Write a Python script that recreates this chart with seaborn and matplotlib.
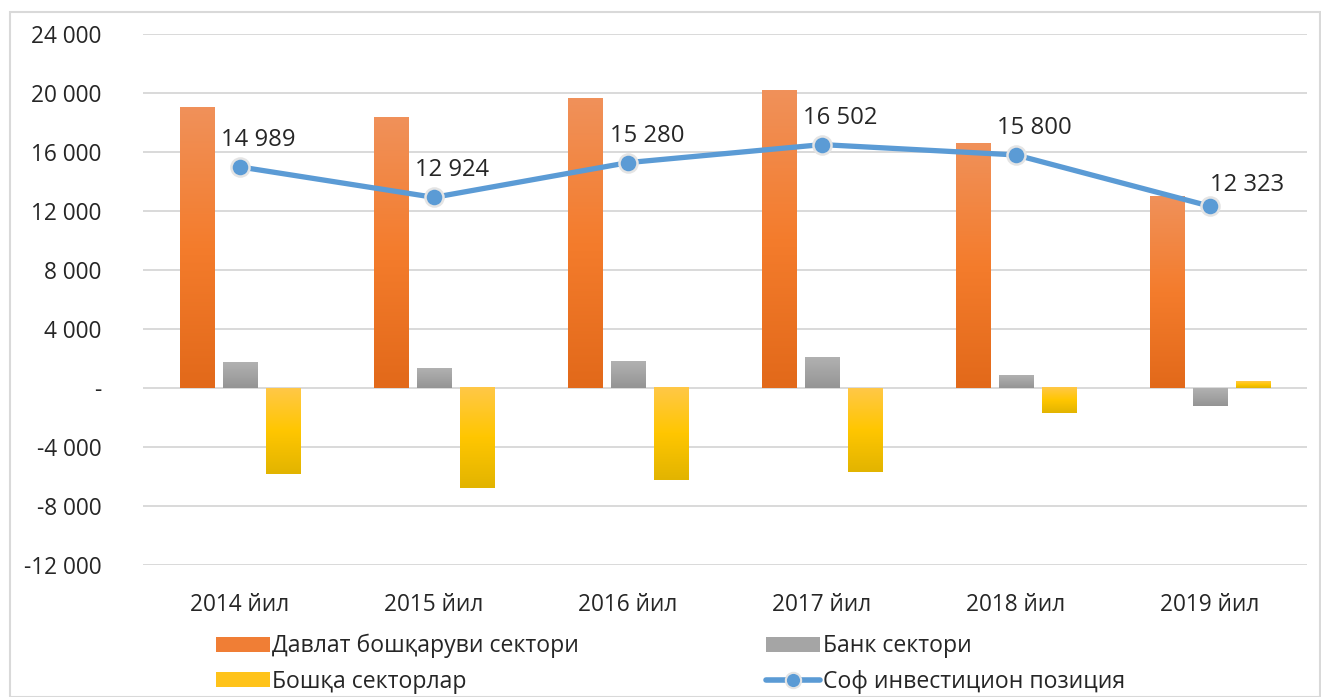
import numpy as np
import pandas as pd
import matplotlib
matplotlib.use("Agg")
import matplotlib.pyplot as plt
import seaborn as sns
from matplotlib.colors import LinearSegmentedColormap, to_rgb
from matplotlib.patches import Rectangle, Patch
from matplotlib.lines import Line2D

# ---- data ----
years = ["2014 йил", "2015 йил", "2016 йил", "2017 йил", "2018 йил", "2019 йил"]
sectors = ["Давлат бошқаруви сектори", "Банк сектори", "Бошқа секторлар"]
gov_sector = [19050, 18370, 19600, 20140, 16610, 12950]
bank_sector = [1700, 1290, 1830, 2100, 880, -1220]
other_sectors = [-5830, -6780, -6240, -5690, -1700, 470]
net_position = [14989, 12924, 15280, 16502, 15800, 12323]
net_label = "Соф инвестицион позиция"
y_ticks = [-12000, -8000, -4000, 0, 4000, 8000, 12000, 16000, 20000, 24000]

df = pd.DataFrame({
    "year": years * 3,
    "sector": [sectors[0]] * 6 + [sectors[1]] * 6 + [sectors[2]] * 6,
    "value": gov_sector + bank_sector + other_sectors,
})
df_line = pd.DataFrame({"year": years, "net": net_position})

# ---- style ----
sns.set_theme(style="white")
plt.rcParams["font.family"] = ["Open Sans", "DejaVu Sans"]
text_color = "#262626"
grid_color = "#D9D9D9"
base_colors = ["#ED7D31", "#A5A5A5", "#FFC000"]
gradients = [
    ["#F0915A", "#F47C2C", "#E2691A"],
    ["#B1B1B1", "#A3A3A3", "#949494"],
    ["#FFC847", "#FFC600", "#E2B400"],
]
line_color = "#5B9BD5"

W, H = 1321, 697
fig = plt.figure(figsize=(W / 100, H / 100), dpi=100)
ax = fig.add_axes([143 / W, 1 - 565 / H, (1307 - 143) / W, (565 - 34) / H])

sns.barplot(data=df, x="year", y="value", hue="sector", hue_order=sectors,
            palette=base_colors, width=0.665, gap=0.19, ax=ax, legend=False,
            errorbar=None, zorder=2)

# replace solid fills by vertical gradients
cmaps = [LinearSegmentedColormap.from_list(f"g{i}", g) for i, g in enumerate(gradients)]
grad = np.linspace(0, 1, 256).reshape(-1, 1)
for p in list(ax.patches):
    fc = p.get_facecolor()[:3]
    idx = int(np.argmin([np.sum((np.array(fc) - np.array(to_rgb(c))) ** 2) for c in base_colors]))
    x0, y0 = p.get_x(), p.get_y()
    w, h = p.get_width(), p.get_height()
    if w == 0 or h == 0:
        continue
    lo, hi = min(y0, y0 + h), max(y0, y0 + h)
    ax.imshow(grad, cmap=cmaps[idx], extent=[x0, x0 + w, lo, hi], origin="upper",
              aspect="auto", zorder=2, interpolation="bilinear")
    p.set_visible(False)

# line
sns.pointplot(data=df_line, x="year", y="net", color=line_color, ax=ax,
              markers="o", errorbar=None, native_scale=False)
for ln in ax.lines:
    ln.set_linewidth(3.8)
    ln.set_markersize(13)
    ln.set_markeredgecolor("#E4E4E4")
    ln.set_markeredgewidth(1.8)
    ln.set_markerfacecolor(line_color)
    ln.set_zorder(4)
    ln.set_solid_capstyle("round")

label_offsets = [(13, 19.5), (13, 19.5), (14, 19.5), (13, 19.5), (13, 19.5), (27, 15)]
for i, v in enumerate(net_position):
    ax.annotate(f"{v:,}".replace(",", " "), (i, v), xytext=label_offsets[i],
                textcoords="offset points", ha="center", va="center",
                fontsize=17.2, color=text_color, zorder=5)

ax.set_xlim(-0.5, 5.5)
ax.set_ylim(-12000, 24000)
ax.set_yticks(y_ticks)
ax.set_yticklabels([("-" if t == 0 else f"{t:,}".replace(",", " ")) for t in y_ticks])
ax.yaxis.grid(True, color=grid_color, linewidth=1.4, zorder=0)
ax.set_axisbelow(True)
for s in ax.spines.values():
    s.set_visible(False)
ax.tick_params(axis="y", length=0, pad=30, labelsize=16.3, labelcolor=text_color)
ax.tick_params(axis="x", length=0, pad=20.5, labelsize=16.3, labelcolor=text_color)
ax.set_xlabel("")
ax.set_ylabel("")

# legend
handles = [
    Patch(facecolor="#F07E35", edgecolor="none", label=sectors[0]),
    Patch(facecolor="#FFC31A", edgecolor="none", label=sectors[2]),
    Patch(facecolor="#A5A5A5", edgecolor="none", label=sectors[1]),
    Line2D([0], [0], color=line_color, lw=4, marker="o", markersize=11,
           markerfacecolor=line_color, markeredgecolor="#E4E4E4", markeredgewidth=1.5,
           label=net_label),
]
fig.legend(handles=handles, ncol=2, loc="center left",
           bbox_to_anchor=(216 / W, 1 - 664 / H), frameon=False,
           fontsize=16.6, handlelength=2.35, handleheight=0.62, handletextpad=0.1,
           columnspacing=8.1, labelspacing=0.5, borderpad=0, borderaxespad=0,
           labelcolor=text_color)

# outer border
fig.patches.append(Rectangle((10 / W, 0.5 / H), (W - 11) / W, (H - 12.5) / H,
                             transform=fig.transFigure, fill=False,
                             edgecolor="#D9D9D9", linewidth=1.5))

fig.savefig("out.png", dpi=100)
